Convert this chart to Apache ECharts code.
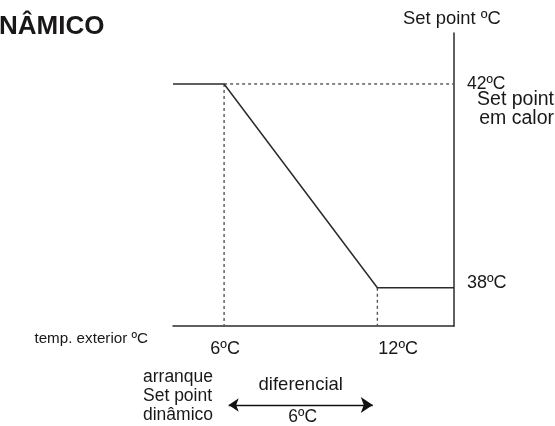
<!DOCTYPE html>
<html><head><meta charset="utf-8">
<script src="https://cdn.jsdelivr.net/npm/echarts@6/dist/echarts.min.js"></script>
<style>html,body{margin:0;padding:0;background:#fff}#c{width:555px;height:426px}</style>
</head><body><div id="c"></div>
<script>
// ---- data ----
const tempExterior = [4, 6, 12, 15];          // ºC (outside temperature)
const setPoint     = [42, 42, 38, 38];        // ºC (dynamic set point)
const xTickValues  = [6, 12];
const xTickLabels  = ['6ºC', '12ºC'];
const yTickValues  = [42, 38];
const yTickLabels  = ['42ºC', '38ºC'];
const diffStart = 6, diffEnd = 12;            // diferencial 6ºC
const titleText = 'NÂMICO';
const yAxisName = 'Set point ºC';
const xAxisName = 'temp. exterior ºC';
const heatLabel = ['Set point', 'em calor'];
const startLabel = ['arranque', 'Set point', 'dinâmico'];
const diffLabel = 'diferencial';
const diffValueLabel = '6ºC';

const X_MIN = 4, X_MAX = 15, Y_MIN = 37.25, Y_MAX = 43;
const FONT = '"Liberation Sans", Arial, sans-serif';
const TXT = '#1a1718';
const LINE = '#2b2b2b';

const chart = echarts.init(document.getElementById('c'), null, {renderer: 'canvas'});
const linePts = tempExterior.map((x, i) => [x, setPoint[i]]);
const dotted = {type: [3, 3], color: '#555', width: 1.4};
const guides = [
  [[xTickValues[0], yTickValues[0]], [xTickValues[0], Y_MIN]],
  [[xTickValues[0], yTickValues[0]], [X_MAX, yTickValues[0]]],
  [[xTickValues[1], yTickValues[1]], [xTickValues[1], Y_MIN]]
];
const arrowY = 35.7;

chart.setOption({
  animation: false,
  grid: {left: 173, right: 101, top: 33, bottom: 100},
  xAxis: {type: 'value', min: X_MIN, max: X_MAX,
    axisLine: {show: true, onZero: false, lineStyle: {color: LINE, width: 1.5}},
    axisTick: {show: false}, axisLabel: {show: false}, splitLine: {show: false}},
  yAxis: {type: 'value', position: 'right', min: Y_MIN, max: Y_MAX,
    axisLine: {show: true, onZero: false, lineStyle: {color: LINE, width: 1.5}},
    axisTick: {show: false}, axisLabel: {show: false}, splitLine: {show: false}},
  series: [
    ...guides.map(g => ({type: 'line', data: g, symbol: 'none', lineStyle: dotted, z: 1})),
    {type: 'line', data: linePts, symbol: 'none', lineStyle: {color: LINE, width: 1.5}, z: 3},
    {type: 'lines', coordinateSystem: 'cartesian2d', clip: false, silent: true,
      symbol: ['arrow', 'arrow'], symbolSize: [10, 12],
      lineStyle: {color: '#111', width: 1.3, opacity: 1},
      data: [{coords: [[diffStart + 0.18, arrowY], [diffEnd - 0.18, arrowY]]}]}
  ]
});

const px = (x, y) => chart.convertToPixel({gridIndex: 0}, [x, y]);
const t = (text, x, y, size, align) => ({
  type: 'text', x, y, silent: true,
  style: {text, fill: TXT, font: size + 'px ' + FONT, textAlign: align || 'left', textVerticalAlign: 'middle'}
});

const g = [];
g.push({type: 'text', x: -1, y: 27, silent: true, style: {text: titleText, fill: TXT, font: 'bold 26px ' + FONT, textAlign: 'left', textVerticalAlign: 'middle'}});
g.push(t(yAxisName, 403, 19, 18.4));
g.push(t(xAxisName, 148, 339, 15.2, 'right'));
// x tick labels
const p6 = px(xTickValues[0], Y_MIN), p12 = px(xTickValues[1], Y_MIN);
g.push(t(xTickLabels[0], p6[0] + 1, p6[1] + 23, 18, 'center'));
g.push(t(xTickLabels[1], p12[0] + 1, p12[1] + 23, 18, 'left'));
// y tick labels
const p42 = px(X_MAX, yTickValues[0]), p38 = px(X_MAX, yTickValues[1]);
g.push(t(yTickLabels[0], p42[0] + 13, p42[1], 17.5));
g.push(t(yTickLabels[1], p38[0] + 13, p38[1] - 5, 18));
g.push(t(heatLabel[0], 554, 100, 19.5, 'right'));
g.push(t(heatLabel[1], 554, 119, 19.5, 'right'));
startLabel.forEach((s, i) => g.push(t(s, 143, 377 + i * 19, 17.5)));
const pa = px(diffStart, arrowY), pb = px(diffEnd, arrowY);
const mid = (pa[0] + pb[0]) / 2;
g.push(t(diffLabel, mid, pa[1] - 20, 18.5, 'center'));
g.push(t(diffValueLabel, mid + 2, pa[1] + 12, 17.5, 'center'));
chart.setOption({graphic: g});
</script></body></html>
